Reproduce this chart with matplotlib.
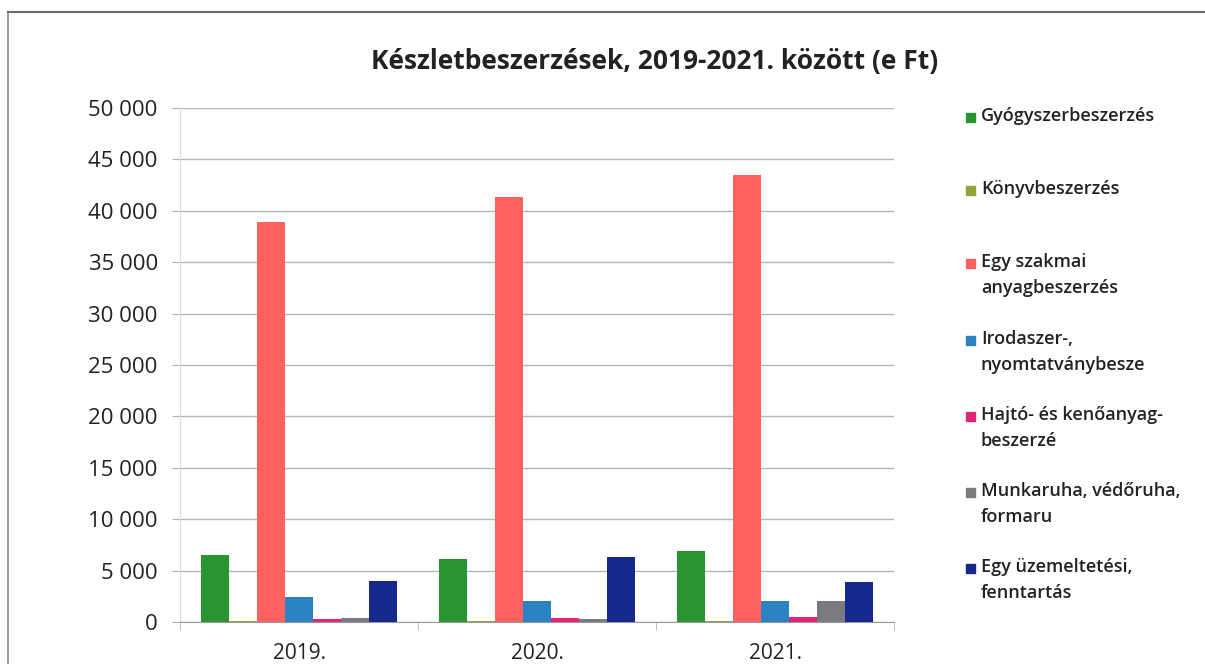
import matplotlib
matplotlib.use("Agg")
import matplotlib.pyplot as plt
from matplotlib.patches import Rectangle
from matplotlib.lines import Line2D
import numpy as np

years = ["2019.", "2020.", "2021."]
series_names = [
    "Gyógyszerbeszerzés",
    "Könyvbeszerzés",
    "Egy szakmai\nanyagbeszerzés",
    "Irodaszer-,\nnyomtatványbesze",
    "Hajtó- és kenőanyag-\nbeszerzé",
    "Munkaruha, védőruha,\nformaru",
    "Egy üzemeltetési,\nfenntartás",
]
gyogyszer = [6500, 6100, 6900]
konyv = [100, 100, 100]
szakmai = [38900, 41300, 43500]
irodaszer = [2400, 2000, 2000]
hajto = [300, 350, 450]
munkaruha = [350, 250, 2000]
uzemeltetesi = [3950, 6300, 3850]
yticks = [0, 5000, 10000, 15000, 20000, 25000, 30000, 35000, 40000, 45000, 50000]
ytick_labels = ["0", "5 000", "10 000", "15 000", "20 000", "25 000", "30 000",
                "35 000", "40 000", "45 000", "50 000"]
title = "Készletbeszerzések, 2019-2021. között (e Ft)"

values = [gyogyszer, konyv, szakmai, irodaszer, hajto, munkaruha, uzemeltetesi]
colors = ["#2a9430", "#8da63a", "#ff6060", "#2b83c4", "#e3257a", "#7a7a80", "#17288c"]

FONT = ["Open Sans", "DejaVu Sans"]
plt.rcParams["font.family"] = FONT

W, H = 1205, 664
fig = plt.figure(figsize=(W / 100, H / 100), dpi=100)
ax = fig.add_axes([180 / W, 1 - 622 / H, (894 - 180) / W, (622 - 108) / H])

x = np.arange(len(years))
n = len(values)
bw = 0.118
for i, (vals, c) in enumerate(zip(values, colors)):
    off = (i - (n - 1) / 2) * bw
    ax.bar(x + off, vals, width=bw, color=c, zorder=3, label=series_names[i])

ax.set_xlim(-0.5, len(years) - 0.5)
ax.set_ylim(0, 50000)
ax.set_yticks(yticks)
ax.set_yticklabels(ytick_labels, fontsize=16, color="#222222")
ax.set_xticks(x)
ax.set_xticklabels(years, fontsize=15, color="#222222")
ax.tick_params(axis="x", length=0, pad=15)
ax.tick_params(axis="y", length=6, color="#b0b0b0", pad=10)
ax.set_xticks([-0.5, 0.5, 1.5, 2.5], minor=True)
ax.tick_params(axis="x", which="minor", length=6, color="#b0b0b0")
ax.grid(axis="y", color="#b5b5b5", linewidth=1.0, zorder=0)
for s in ["top", "right"]:
    ax.spines[s].set_visible(False)
ax.spines["left"].set_color("#dcdcdc")
ax.spines["bottom"].set_color("#9a9a9a")

fig.text(655 / W, 1 - 61 / H, title, fontsize=19, fontweight="bold",
         ha="center", va="center", color="#222222")

# Legend (manual, to match layout)
leg_y = [117, 190, 263, 340, 416, 492, 568]
for name, c, yy in zip(series_names, colors, leg_y):
    fy = 1 - yy / H
    fig.patches.append(Rectangle((966 / W, fy - 4.5 / H), 9 / W, 9 / H,
                                 transform=fig.transFigure, color=c, figure=fig))
    fig.text(981 / W, fy + 10 / H, name, fontsize=13, fontweight="semibold",
             ha="left", va="top", color="#222222", linespacing=1.6)

# Chart frame
fig.add_artist(Line2D([8 / W, 8 / W], [1 - 12 / H, 0], transform=fig.transFigure,
                      color="#8a8a8a", linewidth=1.2))
fig.add_artist(Line2D([8 / W, 1], [1 - 12 / H, 1 - 12 / H], transform=fig.transFigure,
                      color="#6a6a6a", linewidth=1.5))

fig.savefig("out.png", dpi=100)
